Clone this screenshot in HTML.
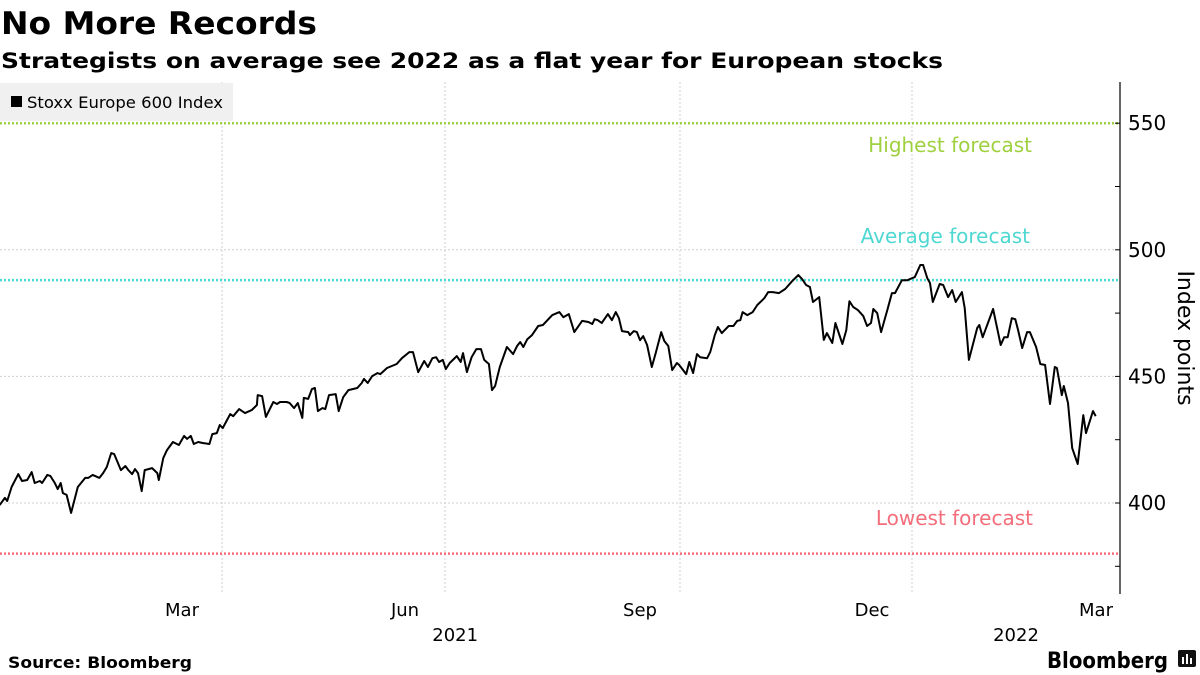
<!DOCTYPE html>
<html><head><meta charset="utf-8"><style>
html,body{margin:0;padding:0;background:#fff;}
svg{display:block;font-family:"DejaVu Sans","Liberation Sans",sans-serif;}
</style></head><body>
<svg id="chart" width="1200" height="675" viewBox="0 0 1200 675" xmlns="http://www.w3.org/2000/svg">
<text x="1" y="34" font-size="31" font-weight="bold" textLength="316" lengthAdjust="spacingAndGlyphs">No More Records</text>
<text x="1" y="68" font-size="21" font-weight="bold" textLength="942" lengthAdjust="spacingAndGlyphs">Strategists on average see 2022 as a flat year for European stocks</text>
<g id="grid"></g>
<g id="forecasts"></g>
<rect x="0" y="83" width="233" height="38" fill="#f0f0f0"/>
<g>
<rect x="11" y="96" width="11" height="11" fill="#000"/>
<text x="27" y="108" font-size="16" textLength="196" lengthAdjust="spacingAndGlyphs">Stoxx Europe 600 Index</text>
</g>
<g id="series"></g>
<g id="axes"></g>
<text transform="translate(1178,338) rotate(90)" text-anchor="middle" font-size="22">Index points</text>
<text x="8" y="668" font-size="16" font-weight="bold" textLength="184" lengthAdjust="spacingAndGlyphs">Source: Bloomberg</text>
<text x="1047" y="668" font-size="22" font-weight="bold" textLength="121" lengthAdjust="spacingAndGlyphs">Bloomberg</text>
<g>
<rect x="1178" y="650" width="18" height="17" rx="2" fill="#111"/>
<rect x="1182" y="657" width="2" height="7" fill="#fff"/><rect x="1186" y="654" width="2" height="10" fill="#fff"/><rect x="1190" y="658" width="2" height="6" fill="#fff"/>
</g>
</svg>
<script>
const months = [-2.99,-2.92,-2.89,-2.83,-2.74,-2.69,-2.62,-2.56,-2.52,-2.45,-2.42,-2.35,-2.31,-2.25,-2.21,-2.17,-2.14,-2.09,-2.03,-1.94,-1.84,-1.80,-1.74,-1.65,-1.60,-1.55,-1.49,-1.45,-1.36,-1.30,-1.26,-1.21,-1.17,-1.13,-1.08,-1.04,-0.94,-0.87,-0.85,-0.79,-0.74,-0.66,-0.58,-0.51,-0.47,-0.42,-0.38,-0.32,-0.26,-0.17,-0.13,-0.07,-0.03,0.01,0.11,0.15,0.23,0.31,0.40,0.47,0.48,0.54,0.59,0.69,0.74,0.78,0.87,0.91,0.97,1.02,1.08,1.10,1.16,1.21,1.25,1.29,1.35,1.39,1.44,1.53,1.57,1.63,1.70,1.82,1.88,1.91,1.96,2.02,2.09,2.13,2.22,2.35,2.42,2.52,2.57,2.64,2.72,2.77,2.83,2.88,2.92,2.97,3.01,3.06,3.15,3.20,3.23,3.28,3.34,3.40,3.46,3.50,3.56,3.60,3.64,3.70,3.79,3.87,3.92,3.96,4.00,4.05,4.11,4.19,4.25,4.37,4.46,4.51,4.58,4.65,4.75,4.83,4.88,4.91,4.95,5.00,5.08,5.13,5.18,5.22,5.26,5.34,5.36,5.41,5.45,5.49,5.53,5.58,5.64,5.69,5.76,5.80,5.85,5.90,5.96,5.99,6.08,6.12,6.17,6.22,6.26,6.35,6.39,6.45,6.49,6.54,6.63,6.69,6.74,6.78,6.81,6.87,6.94,7.00,7.09,7.14,7.20,7.28,7.36,7.45,7.53,7.58,7.63,7.68,7.72,7.80,7.86,7.90,7.97,8.01,8.10,8.15,8.19,8.24,8.30,8.37,8.42,8.47,8.50,8.55,8.60,8.68,8.74,8.78,8.87,8.94,9.00,9.04,9.12,9.16,9.22,9.26,9.30,9.40,9.45,9.52,9.58,9.63,9.72,9.76,9.82,9.94,9.97,10.02,10.17,10.28,10.33,10.38,10.44,10.49,10.53,10.59,10.66,10.70,10.79,10.85,10.92,10.99,11.06,11.09,11.16,11.19,11.25,11.31,11.39,11.47,11.51,11.61,11.65];
const values = [399.2,402.0,400.8,406.3,411.4,408.7,409.1,412.2,407.9,408.7,407.9,411.1,410.7,407.9,405.5,407.9,403.9,403.2,396.1,406.3,409.9,409.9,411.1,409.9,411.8,414.2,419.7,419.3,413.0,414.6,413.0,411.4,413.4,411.8,404.7,413.0,413.8,411.8,409.1,417.8,420.9,424.1,422.9,426.5,425.3,426.5,423.3,424.1,423.7,423.3,427.2,427.6,430.8,429.6,435.1,434.3,437.1,435.5,436.7,438.7,442.6,442.2,434.0,439.9,439.1,439.9,439.9,439.5,437.5,439.5,433.6,441.5,441.1,445.0,445.4,436.3,437.5,437.1,442.6,443.0,436.3,441.8,444.6,445.4,447.4,449.0,447.4,450.1,451.3,450.9,453.3,454.9,457.2,459.6,459.6,451.7,456.1,453.7,457.2,457.6,455.7,456.5,452.9,455.3,458.0,455.7,459.2,451.7,457.6,460.8,460.8,456.5,454.9,444.6,446.2,453.7,461.6,458.8,462.0,463.6,461.6,464.7,466.3,469.9,470.3,474.2,475.4,473.4,474.6,467.5,471.9,471.5,470.7,472.6,472.2,471.1,474.6,472.2,475.4,473.0,467.9,467.5,466.3,467.9,467.5,464.3,465.9,462.4,453.7,459.2,467.5,464.0,462.0,452.5,455.3,454.5,450.9,455.7,451.3,458.8,457.6,457.2,459.6,466.3,469.5,467.1,469.9,469.9,471.9,472.2,475.4,474.2,475.4,478.2,480.9,483.3,483.3,482.9,484.5,487.6,490.0,488.4,486.1,485.3,479.4,481.3,464.4,467.1,463.2,471.1,462.8,468.3,479.7,477.4,476.2,473.8,469.9,471.1,476.6,475.0,467.5,476.2,482.9,482.9,488.0,488.0,488.8,489.2,494.0,494.0,488.8,486.9,479.4,486.5,486.1,481.3,484.1,479.4,483.3,477.0,456.5,469.1,470.3,465.5,476.6,462.4,465.5,465.5,473.0,472.6,468.3,461.2,467.5,467.5,461.6,454.9,454.5,439.1,453.7,453.3,442.6,446.2,439.5,421.7,415.4,434.7,427.6,436.3,434.3];
const yTicks = [400,450,500,550];
const xTickMonths = [0,3,6,9,12];
const xTickLabels = ["Mar","Jun","Sep","Dec","Mar"];
const yearLabels = ["2021","2022"];
const yearMonths = [3.13,10.5];
const forecastNames = ["Highest forecast","Average forecast","Lowest forecast"];
const forecastValues = [550,488,380];
const forecastColors = ["#9fd03f","#4fd8d2","#f46d7b"];

const NS="http://www.w3.org/2000/svg";
const plotTop=82, plotBottom=594, axisX=1120;
const anchorM=[-3,0,3,6,9,12], anchorX=[-1,222,445,680,912,1120];
function x(m){
  for(let i=0;i<anchorM.length-1;i++){
    if(m<=anchorM[i+1]||i===anchorM.length-2){
      const t=(m-anchorM[i])/(anchorM[i+1]-anchorM[i]);
      return anchorX[i]+t*(anchorX[i+1]-anchorX[i]);
    }
  }
}
function y(v){return 503-(v-400)*126.6/50;}
function mk(tag,attrs,parent){const e=document.createElementNS(NS,tag);for(const k in attrs)e.setAttribute(k,attrs[k]);parent.appendChild(e);return e;}

const grid=document.getElementById('grid');
yTicks.forEach(v=>{
  const l=mk('line',{x1:0,x2:axisX,y1:y(v),y2:y(v),stroke:'#cfcfcf','stroke-width':1,'stroke-dasharray':'2,2'},grid);
  
  
});
xTickMonths.forEach(m=>{
  if(m>=12) return;
  const l=mk('line',{x1:x(m),x2:x(m),y1:plotTop,y2:plotBottom,stroke:'#cfcfcf','stroke-width':1,'stroke-dasharray':'2,2'},grid);
  
  
});

const fc=document.getElementById('forecasts');
const labelY=[145,236,518];
const labelX=[1032,1030,1033];
forecastValues.forEach((v,i)=>{
  const l=mk('line',{x1:0,x2:axisX,y1:y(v),y2:y(v),stroke:forecastColors[i],'stroke-width':2.5,'stroke-dasharray':'2,2'},fc);
  
  
  const t=mk('text',{x:labelX[i],y:labelY[i]+7,'text-anchor':'end','font-size':20,fill:forecastColors[i]},fc);
  t.textContent=forecastNames[i];
  
  
});

const series=document.getElementById('series');
const d=months.map((m,i)=>(i?'L':'M')+x(m).toFixed(1)+','+y(values[i]).toFixed(1)).join('');
const p=mk('path',{d:d,fill:'none',stroke:'#000','stroke-width':2,'stroke-linejoin':'round'},series);



const axes=document.getElementById('axes');
const ax=mk('line',{x1:axisX,x2:axisX,y1:plotTop,y2:plotBottom,stroke:'#000','stroke-width':1.2},axes);


for(let v=375;v<=565;v+=25){
  const tk=mk('line',{x1:axisX-5,x2:axisX,y1:y(v),y2:y(v),stroke:'#000','stroke-width':1},axes);
  
  
}
yTicks.forEach(v=>{
  const t=mk('text',{x:axisX+8,y:y(v)+7,'font-size':20},axes);
  t.textContent=v;
  
  
});
xTickMonths.forEach((m,i)=>{
  const off = m>=12 ? -24 : -40;
  const t=mk('text',{x:x(m)+off,y:616,'text-anchor':'middle','font-size':18},axes);
  t.textContent=xTickLabels[i];
  
  
});
yearLabels.forEach((s,i)=>{
  const t=mk('text',{x:x(yearMonths[i]),y:641,'text-anchor':'middle','font-size':18},axes);
  t.textContent=s;
  
  
});
</script>
</body></html>
